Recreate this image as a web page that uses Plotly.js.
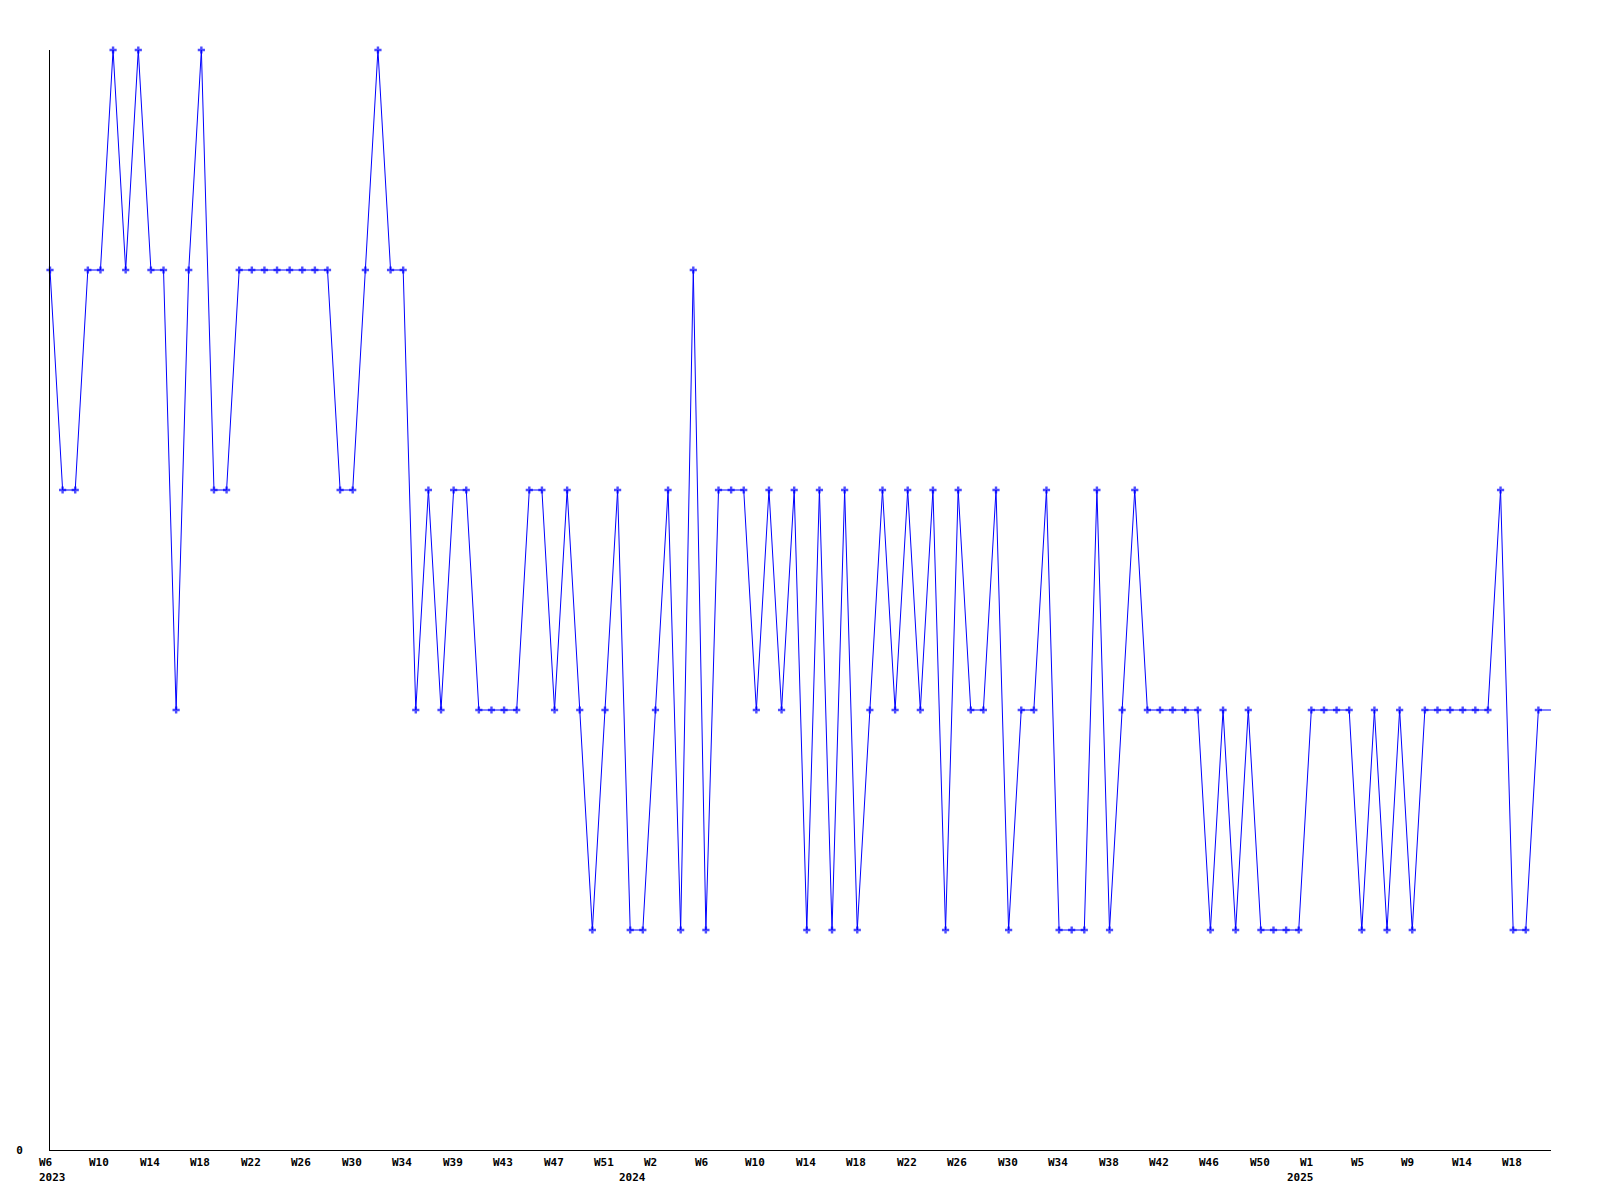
<!DOCTYPE html>
<html>
<head>
<meta charset="utf-8">
<script src="https://cdn.plot.ly/plotly-3.0.1.min.js"></script>
<style>
  html, body { margin: 0; padding: 0; background: #ffffff; }
  #chart { width: 1600px; height: 1200px; }
</style>
</head>
<body>
<div id="chart"></div>
<script>
// Weekly values, one per week starting at 2023 W6 (levels 1..5)
const values = [
  4,3,3,4,4,5,4,5,4,4,2,4,5,3,3,4,4,4,4,4,4,4,4,3,3,4,5,4,4,
  2,3,2,3,3,2,2,2,2,3,3,2,3,2,1,2,3,1,1,2,3,1,4,1,3,3,3,2,3,2,3,
  1,3,1,3,1,2,3,2,3,2,3,1,3,2,2,3,1,2,2,3,1,1,1,3,1,2,3,2,2,2,2,2,
  1,2,1,2,1,1,1,1,2,2,2,2,1,2,1,2,1,2,2,2,2,2,2,3,1,1,2,2
];

// x-axis week labels (position = week index in the series)
const weekTickIdx = [0,4,8,12,16,20,24,28,32,36,40,44,48,52,56,60,64,68,72,76,80,84,88,92,96,100,104,108,112,116];
const weekTickText = ['W6','W10','W14','W18','W22','W26','W30','W34','W39','W43','W47','W51',
                      'W2','W6','W10','W14','W18','W22','W26','W30','W34','W38','W42','W46','W50',
                      'W1','W5','W9','W14','W18'];

// year labels (position = week index of the year's first week shown)
const yearIdx = [0, 47, 100];
const yearText = ['2023', '2024', '2025'];
const yearShift = [-11, -24, -24];

// y-axis labels
const yTickVals = [0];
const yTickText = ['0'];

const xs = values.map((_, i) => i);
const last = values.length - 1;
const sizes = values.map((_, i) => (i === last ? 0 : 6));

const font = { family: '"DejaVu Sans Mono", "Liberation Mono", monospace', size: 11, color: '#000000', weight: 'bold' };

const annotations = [];
weekTickIdx.forEach((xi, k) => {
  annotations.push({
    x: xi, xref: 'x', y: 0, yref: 'paper',
    text: '<b>' + weekTickText[k] + '</b>', showarrow: false,
    xanchor: 'left', yanchor: 'middle', xshift: -11, yshift: -12,
    font: font, borderpad: 0, borderwidth: 0
  });
});
yearIdx.forEach((xi, k) => {
  annotations.push({
    x: xi, xref: 'x', y: 0, yref: 'paper',
    text: '<b>' + yearText[k] + '</b>', showarrow: false,
    xanchor: 'left', yanchor: 'middle', xshift: yearShift[k], yshift: -27,
    font: font, borderpad: 0, borderwidth: 0
  });
});

const trace = {
  x: xs, y: values, type: 'scatter', mode: 'lines+markers',
  line: { color: '#0000ff', width: 1 },
  marker: { color: '#0000ff', symbol: 'cross', size: sizes, line: { width: 0 } },
  cliponaxis: false, hoverinfo: 'skip'
};

const layout = {
  width: 1600, height: 1200,
  margin: { l: 50, r: 49, t: 50, b: 50, pad: 0 },
  paper_bgcolor: '#ffffff', plot_bgcolor: '#ffffff',
  showlegend: false,
  annotations: annotations,
  xaxis: {
    range: [0, last], showgrid: false, zeroline: false,
    showline: true, linecolor: '#000000', linewidth: 1,
    ticks: '', showticklabels: false, fixedrange: true
  },
  yaxis: {
    range: [0, 5], showgrid: false, zeroline: false,
    showline: true, linecolor: '#000000', linewidth: 1,
    ticks: '', tickmode: 'array', tickvals: yTickVals, ticktext: yTickText,
    tickfont: font, ticklabelstandoff: 24, fixedrange: true
  }
};

Plotly.newPlot('chart', [trace], layout, { staticPlot: true, displayModeBar: false });
</script>
</body>
</html>
